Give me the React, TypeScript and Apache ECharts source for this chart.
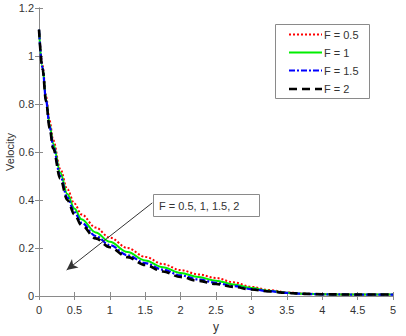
import React, { useEffect, useRef } from "react";
import * as echarts from "echarts";

const xs = [0, 0.05, 0.1, 0.15, 0.2, 0.3, 0.4, 0.5, 0.6, 0.8, 1, 1.25, 1.5, 1.75, 2, 2.25, 2.5, 2.75, 3, 3.25, 3.5, 3.75, 4, 4.5, 5];
const seriesNames = ["F = 0.5", "F = 1", "F = 1.5", "F = 2"];
const vF05 = [1.11, 0.96, 0.83, 0.73, 0.65, 0.53, 0.445, 0.385, 0.34, 0.285, 0.243, 0.2, 0.163, 0.133, 0.108, 0.09, 0.075, 0.057, 0.038, 0.025, 0.015, 0.01, 0.007, 0.006, 0.006];
const vF1 = [1.11, 0.955, 0.82, 0.715, 0.635, 0.515, 0.425, 0.365, 0.32, 0.265, 0.226, 0.183, 0.148, 0.12, 0.096, 0.079, 0.064, 0.048, 0.033, 0.022, 0.014, 0.009, 0.007, 0.006, 0.006];
const vF15 = [1.11, 0.95, 0.815, 0.705, 0.625, 0.5, 0.41, 0.35, 0.305, 0.25, 0.212, 0.17, 0.137, 0.11, 0.086, 0.069, 0.055, 0.041, 0.029, 0.02, 0.013, 0.009, 0.007, 0.006, 0.006];
const vF2 = [1.11, 0.945, 0.81, 0.7, 0.615, 0.49, 0.4, 0.34, 0.295, 0.24, 0.203, 0.162, 0.129, 0.102, 0.079, 0.063, 0.05, 0.038, 0.027, 0.019, 0.013, 0.009, 0.007, 0.006, 0.006];
const arrowFrom = [1.6, 0.388];
const arrowTo = [0.39, 0.108];
const annotationText = "F = 0.5, 1, 1.5, 2";

const FONT = "'Liberation Sans', Arial, sans-serif";
const TXT = "#333333";
const AX = "#8a8a8a";

export default function App() {
  const ref = useRef<HTMLDivElement>(null);
  useEffect(() => {
    if (!ref.current) return;
    const chart = echarts.init(ref.current, null, { renderer: "svg" });
    const pairs = (vals: number[]) => xs.map((x, i) => [x, vals[i]]);
    const styles = [
      { color: "#ff0000", width: 2, type: [2, 2] },
      { color: "#00ee00", width: 2, type: "solid" },
      { color: "#0000ff", width: 2.2, type: [6, 2, 2, 2] },
      { color: "#000000", width: 2.6, type: [8, 5] },
    ];
    const datas = [vF05, vF1, vF15, vF2];
    const series: any[] = datas.map((d, i) => ({
      name: seriesNames[i],
      type: "line",
      data: pairs(d),
      smooth: 0.35,
      smoothMonotone: "x",
      showSymbol: false,
      symbol: "none",
      color: styles[i].color,
      lineStyle: { color: styles[i].color, width: styles[i].width, type: styles[i].type as any },
      z: 2 + i,
    }));
    series.push({
      type: "line",
      data: [],
      silent: true,
      markLine: {
        silent: true,
        symbol: ["none", "arrow"],
        symbolSize: [8, 11],
        label: { show: false },
        lineStyle: { color: "#333", width: 1, type: "solid" },
        data: [[{ coord: arrowFrom }, { coord: arrowTo }]],
      },
    });
    const axisCommon = {
      axisLine: { show: true, lineStyle: { color: AX, width: 1 } },
      axisTick: { show: true, inside: true, length: 4, lineStyle: { color: AX } },
      splitLine: { show: false },
    };
    const legendRowsY = [34.5, 52.5, 70.5, 89];
    const legendGraphics: any[] = [
      {
        type: "rect",
        shape: { x: 275.5, y: 24.5, width: 94, height: 74 },
        style: { fill: "#ffffff", stroke: AX, lineWidth: 1 },
        z: 100,
      },
    ];
    seriesNames.forEach((nm, i) => {
      legendGraphics.push({
        type: "line",
        shape: { x1: 289, y1: legendRowsY[i], x2: 322, y2: legendRowsY[i] },
        style: {
          stroke: styles[i].color,
          lineWidth: styles[i].width,
          lineDash: Array.isArray(styles[i].type) ? styles[i].type : null,
        },
        z: 101,
      });
      legendGraphics.push({
        type: "text",
        x: 324,
        y: legendRowsY[i],
        style: { text: nm, fontFamily: FONT, fontSize: 11, fill: TXT, verticalAlign: "middle", align: "left" },
        z: 101,
      });
    });
    chart.setOption({
      animation: false,
      backgroundColor: "#ffffff",
      grid: { left: 39, right: 13, top: 8, bottom: 40, containLabel: false, outerBoundsMode: "none" },
      xAxis: [
        {
          type: "value",
          min: 0,
          max: 5,
          interval: 0.5,
          position: "bottom",
          name: "y",
          nameLocation: "middle",
          nameGap: 25,
          nameMoveOverlap: false,
          nameTextStyle: { fontFamily: FONT, fontSize: 12, color: TXT },
          axisLabel: { fontFamily: FONT, fontSize: 11, color: TXT, margin: 8 },
          ...axisCommon,
        },
        {
          type: "value",
          min: 0,
          max: 5,
          interval: 0.5,
          position: "top",
          axisLabel: { show: false },
          ...axisCommon,
        },
      ],
      yAxis: [
        {
          type: "value",
          min: 0,
          max: 1.2,
          interval: 0.2,
          position: "left",
          name: "Velocity",
          nameLocation: "middle",
          nameGap: 24,
          nameMoveOverlap: false,
          nameRotate: 90,
          nameTextStyle: { fontFamily: FONT, fontSize: 11, color: TXT },
          axisLabel: { fontFamily: FONT, fontSize: 11, color: TXT, margin: 5 },
          ...axisCommon,
        },
        {
          type: "value",
          min: 0,
          max: 1.2,
          interval: 0.2,
          position: "right",
          axisLabel: { show: false },
          ...axisCommon,
        },
      ],
      graphic: [
        ...legendGraphics,
        {
          type: "rect",
          shape: { x: 153.5, y: 194.5, width: 106, height: 22 },
          style: { fill: "#ffffff", stroke: AX, lineWidth: 1 },
          z: 100,
        },
        {
          type: "text",
          x: 159,
          y: 206,
          style: {
            text: annotationText,
            fontFamily: FONT,
            fontSize: 11,
            fill: TXT,
            verticalAlign: "middle",
            align: "left",
          },
          z: 101,
        },
      ],
      series,
    });
    return () => chart.dispose();
  }, []);
  return <div ref={ref} style={{ position: "fixed", left: 0, top: 0, width: 406, height: 336 }} />;
}
